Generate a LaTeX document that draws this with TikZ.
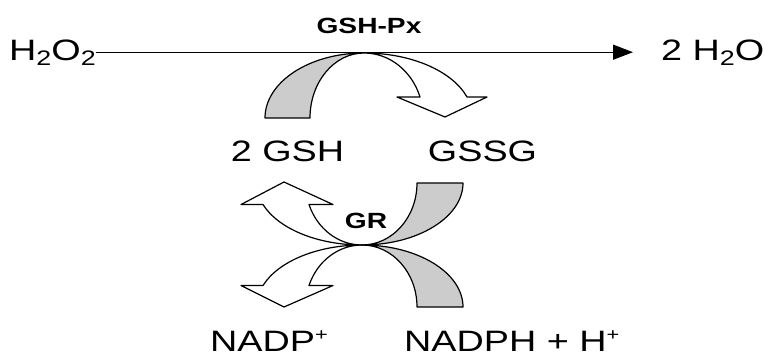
\documentclass[tikz,border=0pt]{standalone}
\usepackage{fontspec}
\usetikzlibrary{arrows.meta}
\newfontfamily\labfont[FakeStretch=1.28]{Liberation Sans}
\newcommand\lsub[1]{\raisebox{-5bp}{\fontsize{21bp}{21bp}\selectfont #1}}
\newcommand\lsup[1]{\raisebox{11bp}{\fontsize{17bp}{17bp}\selectfont #1}}
\definecolor{bandgray}{gray}{0.8}
\begin{document}
\begin{tikzpicture}[x=1bp,y=-1bp,
  big/.style={font=\labfont\fontsize{29.5bp}{30bp}\selectfont, inner sep=0pt},
  enz/.style={font=\labfont\bfseries\fontsize{22bp}{22bp}\selectfont, inner sep=0pt},
  band/.style={draw=black, line width=1.2bp, line join=round},
  gband/.style={band, fill=bandgray},
  wband/.style={band, fill=white},
  rxn/.style={line width=1.4bp, -{Triangle[length=20bp,width=15bp]}}]
\useasboundingbox (0,0) rectangle (765,358);
% top arch
\path[gband] (265,118) .. controls (265,82.1) and (309.3,53) .. (364,53)
  .. controls (334.2,53) and (310,82.1) .. (310,118) -- cycle;
\path[wband] (364,53) .. controls (410.7,53) and (452.1,70.7) .. (467,97)
  -- (487,97) -- (445,117) -- (397,97) -- (420,97)
  .. controls (411.8,70.7) and (389.3,53) .. (364,53) -- cycle;
% bottom crossing
\path[wband] (362,245) .. controls (317.8,245) and (278.3,228.9) .. (263,204.5)
  -- (241,204.5) -- (284,182) -- (333,204.5) -- (309,204.5)
  .. controls (317.2,228.9) and (338.3,245) .. (362,245) -- cycle;
\path[gband] (362,245) .. controls (417.8,245) and (463,217.2) .. (463,183)
  -- (417,183) .. controls (417,217.2) and (392.4,245) .. (362,245) -- cycle;
\path[wband] (362,245) .. controls (317.8,245) and (278.3,261.1) .. (263,285.5)
  -- (241,285.5) -- (284,307) -- (333,285.5) -- (309,285.5)
  .. controls (317.2,261.1) and (338.3,245) .. (362,245) -- cycle;
\path[gband] (362,245) .. controls (417.8,245) and (463,272.8) .. (463,307)
  -- (417,307) .. controls (417,272.8) and (392.4,245) .. (362,245) -- cycle;
% labels
\node[big, anchor=base west] (h2o2) at (9,60) {H\lsub{2}O\lsub{2}};
\node[big, anchor=base west] (h2o) at (661,60) {2 H\lsub{2}O};
\coordinate (tip) at (633,52.5);
\draw[rxn] (h2o2.east) -- (h2o2.east -| tip);
\node[enz, anchor=base] (gshpx) at (369,33) {GSH-Px};
\node[big, anchor=base] (gsh) at (287.5,161) {2 GSH};
\node[big, anchor=base] (gssg) at (482.5,161) {GSSG};
\node[enz, anchor=base] (gr) at (366,228) {GR};
\node[big, anchor=base west] (nadp) at (210,351) {NADP\lsup{+}};
\node[big, anchor=base west] (nadph) at (404,351) {NADPH + H\lsup{+}};
\end{tikzpicture}
\end{document}
